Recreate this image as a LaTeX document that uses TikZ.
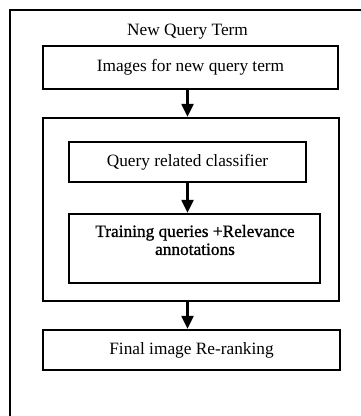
\documentclass[tikz,border=0pt]{standalone}
\usepackage{fontspec}
\setmainfont{Liberation Serif}
\newfontfamily\heavyfont[FakeBold=1]{Liberation Serif}
\usetikzlibrary{arrows.meta}
\begin{document}
\begin{tikzpicture}[x=1pt,y=-1pt,
  every node/.style={font=\fontsize{17.3}{18}\selectfont, inner sep=0pt},
  boxnode/.style={draw, line width=2.3pt, minimum width=#1, anchor=center},
  flowarrow/.style={line width=2.2pt, -{Triangle[width=12pt,length=13pt]}},
  frameline/.style={line width=2.6pt}]
\useasboundingbox (0,0) rectangle (361,416);
\clip (0,0) rectangle (361,416);
\fill[white] (0,0) rectangle (361,416);
\coordinate (fbl) at (10,430);
\coordinate (ftl) at (10,10);
\coordinate (ftr) at (375,10);
\draw[frameline] (fbl) -- (ftl) -- (ftr);
\node (title) at (187.5,32) {New Query Term};
\node[boxnode=295pt, minimum height=43pt] (A) at (190.5,67.5) {Images for new query term};
\node[boxnode=296pt, minimum height=183pt] (big) at (191,209.5) {};
\node[boxnode=237pt, minimum height=40pt] (B) at (187.5,162) {Query related classifier};
\node[boxnode=251pt, minimum height=69pt] (C) at (194.5,248.5) {};
\node[align=center, font=\heavyfont\fontsize{17.3}{18}\selectfont] (Ctext) at (195,240) {Training queries +Relevance\\annotations};
\node[boxnode=297pt, minimum height=40pt] (D) at (191.5,350) {Final image Re-ranking};
\draw[flowarrow] (A.south -| B.center) -- (big.north -| B.center);
\draw[flowarrow] (B.south) -- (C.north -| B.center);
\draw[flowarrow] (big.south -| B.center) -- (D.north -| B.center);
\end{tikzpicture}
\end{document}
